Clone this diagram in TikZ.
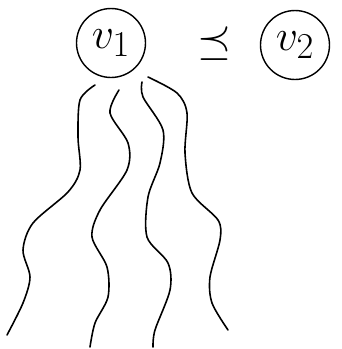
\documentclass[tikz,border=0pt]{standalone}
\usepackage{amssymb, amsmath}
\usepackage{tikz}
\usetikzlibrary{arrows, shapes}
\tikzstyle{vert} = [draw, circle, line width=0.8pt, minimum size=1.38cm, inner sep=0pt, font=\fontsize{28}{30}\selectfont]
\tikzstyle{strand} = [line width=0.9pt, line cap=round]

\begin{document}
\begin{tikzpicture}[x=0.02cm,y=-0.02cm]
		\useasboundingbox (0,0) rectangle (342,349);
		\node[vert] (v1) at (111,43) {$v_1$};
		\node[vert] (v2) at (295,45) {$v_2$};
		\node[font=\fontsize{28}{30}\selectfont] (rel) at (214,44) {$\preceq$};
		% strands below v1
		\draw [strand] plot[smooth] coordinates {(95,85) (80,100) (78,137) (80,170) (68,192) (33,223) (23,250) (30,277) (23,303) (7,335)};
		\draw [strand] plot[smooth] coordinates {(119,90) (110,113) (128,143) (127,170) (100,210) (92,237) (107,267) (108,297) (95,323) (90,347)};
		\draw [strand] plot[smooth] coordinates {(142,82) (143,97) (163,130) (160,163) (148,197) (147,237) (168,263) (170,290) (155,330) (153,347)};
		\draw [strand] plot[smooth] coordinates {(148,77) (177,93) (187,113) (185,153) (192,193) (218,220) (220,240) (210,277) (212,303) (228,330)};
	\end{tikzpicture}
\end{document}
